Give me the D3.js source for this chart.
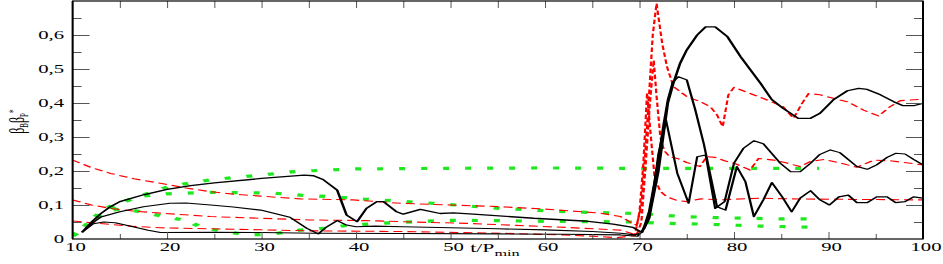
<!DOCTYPE html>
<html>
<head>
<meta charset="utf-8">
<script src="https://cdn.jsdelivr.net/npm/d3@7"></script>
<style>
body { margin: 0; background: #fff; }
text { font-family: "Liberation Serif", "DejaVu Serif", serif; fill: #000; }
</style>
</head>
<body>
<svg id="chart" width="943" height="264"></svg>
<script>
// values, [t/Pmin, beta]
var black1 = [[11,0.02],[12,0.05],[13,0.075],[14,0.095],[15,0.11],[17.5,0.13],[20,0.146],[22.5,0.157],[25,0.165],[30,0.178],[34.5,0.188],[35.5,0.186],[36.5,0.175],[38,0.144],[39,0.07],[40.1,0.051],[41.1,0.09],[42.2,0.11],[42.9,0.11],[44.3,0.08],[45,0.073],[46.8,0.087],[48.9,0.075],[50.3,0.077],[52.4,0.073],[58.8,0.061],[64.1,0.053],[67.2,0.044],[69.3,0.034],[70.2,0.02],[71,0.06],[72,0.2],[72.5,0.3],[73,0.4],[73.6,0.46],[74.3,0.517],[75,0.556],[76.1,0.6],[77,0.624],[78,0.624],[79.3,0.595],[80.7,0.536],[82.8,0.458],[84,0.41],[85.2,0.384],[86.8,0.355],[88.1,0.355],[89.1,0.37],[90.5,0.409],[92,0.436],[93.2,0.443],[94.1,0.44],[95.5,0.424],[96.9,0.404],[97.9,0.392],[99,0.392],[100,0.399]];
var black2 = [[11,0.02],[12,0.045],[13,0.065],[15,0.08],[17.5,0.095],[20.3,0.105],[22,0.106],[24.6,0.1],[27,0.094],[29.9,0.085],[33,0.064],[34.8,0.031],[36,0.015],[36.9,0.036],[38,0.054],[39,0.041],[40,0.036],[42,0.038],[45,0.036],[50,0.033],[55,0.03],[60,0.027],[65,0.022],[68,0.017],[69.5,0.012],[70.3,0.02],[71,0.08],[71.8,0.2],[72.5,0.33],[73,0.41],[73.5,0.46],[74.1,0.477],[75,0.468],[75.9,0.38],[76.8,0.28],[78.2,0.095],[79.1,0.085],[80.3,0.213],[81.2,0.169],[82.1,0.066],[83.1,0.115],[84,0.166],[85.1,0.124],[86.1,0.08],[87,0.12],[88.1,0.142],[89.1,0.115],[90.1,0.1],[91.1,0.124],[92.1,0.129],[93,0.107],[94.1,0.107],[95.1,0.124],[96.2,0.124],[97.1,0.107],[98.1,0.11],[99,0.124],[100,0.12]];
var black3 = [[11,0.02],[12.2,0.045],[13.3,0.05],[14.5,0.048],[16.4,0.036],[18,0.026],[19.3,0.019],[25,0.02],[30,0.019],[35.5,0.017],[45,0.016],[55,0.015],[62,0.014],[68,0.012],[69.8,0.008],[70.5,0.03],[71,0.06],[71.5,0.15],[72,0.25],[72.8,0.35],[74,0.193],[75.2,0.105],[76.1,0.242],[77,0.247],[78,0.09],[79,0.11],[80,0.223],[81,0.267],[82.1,0.289],[83.1,0.28],[84.9,0.223],[86,0.198],[87,0.198],[88.1,0.223],[89.1,0.249],[90.2,0.262],[91.2,0.254],[93,0.213],[94.1,0.205],[95.1,0.218],[96.2,0.24],[97.1,0.252],[98.1,0.25],[99,0.234],[100,0.218]];

var red1 = [[10,0.232],[12,0.21],[14,0.193],[16.5,0.177],[19.3,0.164],[22,0.15],[24.6,0.139],[27,0.132],[29.9,0.126],[34.1,0.118],[39.7,0.115],[44.7,0.105],[50,0.1],[55.3,0.095],[60,0.088],[65.9,0.076],[68,0.066],[69,0.05],[69.7,0.04],[70.2,0.1],[70.6,0.25],[71,0.42],[71.4,0.6],[71.8,0.693],[72.4,0.575],[72.9,0.507],[73.6,0.448],[75,0.419],[76.4,0.404],[77.5,0.389],[78.2,0.365],[78.8,0.33],[79.4,0.424],[80,0.446],[81.7,0.428],[83.5,0.409],[85.2,0.389],[86.3,0.355],[87.2,0.399],[87.9,0.428],[89.1,0.424],[91.2,0.409],[92,0.404],[93.7,0.379],[95.3,0.362],[96.5,0.389],[97.6,0.407],[100,0.411]];
var red2 = [[10,0.115],[12,0.1],[14,0.09],[16.5,0.082],[19.3,0.076],[24.6,0.066],[29.9,0.061],[35.1,0.056],[41.1,0.054],[46,0.05],[51.7,0.046],[57,0.04],[62.3,0.034],[68,0.026],[69.7,0.012],[70.2,0.05],[70.6,0.2],[71.1,0.4],[71.5,0.526],[71.8,0.42],[72.2,0.3],[72.6,0.26],[73.2,0.242],[74,0.237],[75,0.225],[76.4,0.213],[77.1,0.242],[78,0.24],[79,0.23],[80,0.223],[81.7,0.203],[82.6,0.237],[84.2,0.232],[85.5,0.224],[87,0.213],[88.1,0.228],[89.5,0.234],[91,0.225],[93,0.211],[94.8,0.232],[96.5,0.23],[98,0.225],[100,0.218]];
var red3 = [[10,0.053],[12,0.048],[14,0.043],[16.5,0.037],[19.3,0.033],[24.6,0.03],[30,0.027],[35.1,0.024],[44.7,0.022],[55.3,0.017],[62,0.012],[65.9,0.007],[67.6,0.004],[69.5,0.01],[70,0.08],[70.4,0.22],[70.8,0.43],[71.2,0.3],[71.6,0.18],[72.2,0.14],[72.9,0.124],[74,0.113],[75,0.11],[76.5,0.118],[78.5,0.115],[80,0.117],[82.8,0.12],[86,0.118],[90,0.117],[95,0.116],[100,0.115]];

var green1 = [[10,0.01],[11,0.025],[12,0.05],[13,0.07],[14,0.09],[15,0.105],[17,0.125],[20.3,0.155],[22.5,0.165],[24.6,0.174],[29.9,0.188],[33.4,0.198],[36.9,0.203],[40,0.206],[50,0.208],[60,0.209],[67.6,0.208],[75,0.208],[82,0.208],[89,0.208]];
var green2 = [[10,0.01],[11,0.03],[12,0.055],[13,0.08],[14.3,0.1],[15.5,0.11],[17,0.125],[20,0.133],[24.6,0.137],[31.2,0.135],[34.1,0.129],[37.5,0.124],[41.1,0.117],[48.2,0.105],[55.3,0.09],[62.3,0.08],[68,0.076],[70,0.075],[74.5,0.066],[78,0.063],[84.9,0.059],[89,0.059]];
var green3 = [[10,0.01],[11,0.03],[12,0.05],[12.9,0.07],[14.3,0.085],[15.5,0.09],[17.1,0.08],[19,0.07],[22.1,0.054],[23.5,0.036],[24.9,0.028],[26.7,0.02],[28.4,0.012],[31,0.014],[34,0.026],[36.9,0.032],[39.4,0.041],[44,0.048],[49.6,0.055],[55,0.054],[60,0.052],[65.8,0.051],[69,0.05],[72.9,0.046],[76.4,0.044],[82.8,0.038],[89.1,0.034]];

var xTicks = [10, 20, 30, 40, 50, 60, 70, 80, 90, 100];
var yTicks = [0, 0.1, 0.2, 0.3, 0.4, 0.5, 0.6];

// the figure is stretched sideways, so lines are drawn in a squeezed frame and scaled back
var S = 2.0;
var padL = 72.6, padR = 923, padT = 1, padB = 239;

var svg = d3.select("#chart");
var xs = d3.scaleLinear().domain([10, 100]).range([padL, padR]);
var x = d3.scaleLinear().domain([10, 100]).range([padL / S, padR / S]);
var y = d3.scaleLinear().domain([0, 0.7]).range([padB, padT]);

svg.append("clipPath").attr("id", "clip")
	.append("rect")
	.attr("x", padL / S).attr("y", padT)
	.attr("width", (padR - padL) / S).attr("height", padB - padT);

var plot = svg.append("g")
	.attr("transform", "scale(" + S + ",1)")
	.attr("clip-path", "url(#clip)");

var line = d3.line()
	.x(function(d) { return x(d[0]); })
	.y(function(d) { return y(d[1]); });

var series = [
	{ data: green1, color: "#1fe81f", width: 3.2, dash: "3,8" },
	{ data: green2, color: "#1fe81f", width: 3.2, dash: "3,8" },
	{ data: green3, color: "#1fe81f", width: 3.2, dash: "3,8" },
	{ data: red1, color: "#ff0000", width: 1.1, dash: "4.5,2.5" },
	{ data: red2, color: "#ff0000", width: 1.1, dash: "4.5,2.5" },
	{ data: red3, color: "#ff0000", width: 1.1, dash: "4.5,2.5" },
	{ data: black3, color: "#000", width: 1.1, dash: null },
	{ data: black2, color: "#000", width: 1.15, dash: null },
	{ data: black1, color: "#000", width: 1.3, dash: null }
];

plot.selectAll("path.series")
	.data(series)
	.enter().append("path")
	.attr("class", "series")
	.attr("d", function(s) { return line(s.data); })
	.style("fill", "none")
	.style("stroke", function(s) { return s.color; })
	.style("stroke-width", function(s) { return s.width; })
	.style("stroke-dasharray", function(s) { return s.dash; })
	.style("stroke-linejoin", "round");

// ticks, all pointing inside the frame
function tickAxis(axis, tx, ty) {
	var g = svg.append("g")
		.attr("transform", "translate(" + tx + "," + ty + ")")
		.call(axis.tickFormat(""));
	g.select(".domain").remove();
	g.selectAll(".tick line").attr("stroke", "#555");
	return g;
}

var yMinor = d3.range(0.05, 0.7, 0.1);
var xMinor = d3.range(15, 100, 10);

tickAxis(d3.axisLeft(y).tickValues(yTicks.slice(1)).tickSize(-17), padL, 0);
tickAxis(d3.axisLeft(y).tickValues(yMinor).tickSize(-9), padL, 0);
tickAxis(d3.axisRight(y).tickValues(yTicks.slice(1)).tickSize(-17), padR, 0);
tickAxis(d3.axisRight(y).tickValues(yMinor).tickSize(-9), padR, 0);
tickAxis(d3.axisBottom(xs).tickValues(xTicks.slice(1, -1)).tickSize(-7), 0, padB);
tickAxis(d3.axisBottom(xs).tickValues(xMinor).tickSize(-5), 0, padB);
tickAxis(d3.axisTop(xs).tickValues(xTicks.slice(1, -1)).tickSize(-7), 0, padT);
tickAxis(d3.axisTop(xs).tickValues(xMinor).tickSize(-7), 0, padT);

// frame
svg.append("rect")
	.attr("x", padL).attr("y", padT)
	.attr("width", padR - padL).attr("height", padB - padT)
	.style("fill", "none").style("stroke", "#000").style("stroke-width", 1.2);
svg.append("line")
	.attr("x1", padL).attr("x2", padL).attr("y1", padT).attr("y2", padB)
	.style("stroke", "#000").style("stroke-width", 2);
svg.append("line")
	.attr("x1", padR).attr("x2", padR).attr("y1", padT).attr("y2", padB)
	.style("stroke", "#000").style("stroke-width", 2);

var TS = 1.8; // text stretch
var fmt = function(v) { return v === 0 ? "0" : v.toFixed(1).replace(".", ","); };

svg.selectAll("text.ylab")
	.data(yTicks)
	.enter().append("text")
	.attr("class", "ylab")
	.attr("transform", function(d) { return "translate(64," + (y(d) + 4) + ") scale(" + TS + ",1)"; })
	.attr("text-anchor", "end")
	.style("font-size", "11.5px")
	.text(fmt);

svg.selectAll("text.xlab")
	.data(xTicks)
	.enter().append("text")
	.attr("class", "xlab")
	.attr("transform", function(d) { return "translate(" + (xs(d) + 3) + ",250.5) scale(" + TS + ",1)"; })
	.attr("text-anchor", "middle")
	.style("font-size", "11.5px")
	.text(String);

var xt = svg.append("text")
	.attr("transform", "translate(" + xs(54.7) + ",252) scale(1.8,1)")
	.attr("text-anchor", "middle")
	.style("font-size", "12px");
xt.append("tspan").text("t/P");
xt.append("tspan").attr("dy", 4).style("font-size", "9px").text("min");

var yt = svg.append("text")
	.attr("transform", "translate(24," + y(0.345) + ") rotate(-90) scale(1,1.8)")
	.attr("text-anchor", "middle")
	.style("font-size", "12px");
yt.append("tspan").text("β");
yt.append("tspan").attr("dy", 2).style("font-size", "7px").text("B");
yt.append("tspan").attr("dy", -2).text("β");
yt.append("tspan").attr("dy", 2).style("font-size", "7px").text("P");
yt.append("tspan").attr("dy", -6).style("font-size", "7px").text("*");
</script>
</body>
</html>
